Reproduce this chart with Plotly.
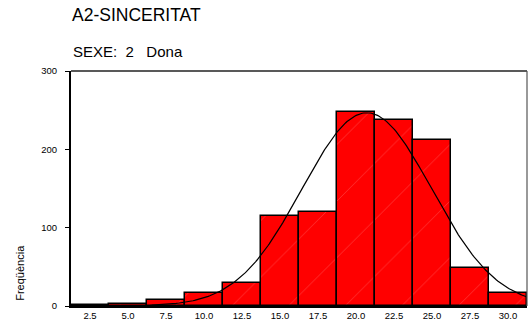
import numpy as np
import plotly.graph_objects as go

# Histogram of A2-SINCERITAT for SEXE = 2 (Dona)
bin_centers = [2.5, 5.0, 7.5, 10.0, 12.5, 15.0, 17.5, 20.0, 22.5, 25.0, 27.5, 30.0]
frequencies = [1, 3, 8, 16, 30, 115, 120, 248, 237, 212, 48, 16]
tick_labels = ["2.5", "5.0", "7.5", "10.0", "12.5", "15.0", "17.5", "20.0",
               "22.5", "25.0", "27.5", "30.0"]
y_ticks = [0, 100, 200, 300]
bin_width = 2.5

# Normal curve fitted to the grouped data (Sheppard-corrected variance)
x = np.array(bin_centers)
n = np.array(frequencies)
total = n.sum()
mean = (x * n).sum() / total
var = (n * (x - mean) ** 2).sum() / total - bin_width ** 2 / 12
sd = np.sqrt(var)
xc = np.linspace(1.25, 31.25, 300)
yc = total * bin_width * np.exp(-0.5 * ((xc - mean) / sd) ** 2) / (sd * np.sqrt(2 * np.pi))

fig = go.Figure()
fig.add_trace(go.Bar(
    x=bin_centers, y=frequencies, width=bin_width,
    marker=dict(color="#ff0000", line=dict(color="black", width=1.5),
                pattern=dict(shape="/", fgcolor="rgba(255,190,190,0.6)",
                             size=40, solidity=0.02)),
    showlegend=False,
))
fig.add_trace(go.Scatter(
    x=xc, y=yc, mode="lines", line=dict(color="black", width=1.2),
    showlegend=False, hoverinfo="skip",
))

fig.update_layout(
    width=529, height=320,
    margin=dict(l=71, r=2, t=71, b=14, autoexpand=False),
    paper_bgcolor="white", plot_bgcolor="white",
    font=dict(family="Liberation Sans, Arial, sans-serif", color="black"),
    bargap=0,
    xaxis=dict(range=[1.25, 31.25], tickvals=bin_centers, ticktext=tick_labels,
               tickfont=dict(size=9.5), ticks="", ticklabelstandoff=0,
               automargin=False, showgrid=False, zeroline=False,
               showline=True, linecolor="black", linewidth=1.5, mirror=False),
    yaxis=dict(range=[0, 300], tickvals=y_ticks, tickfont=dict(size=9.5),
               ticks="outside", ticklen=4, tickcolor="black", ticklabelstandoff=6,
               automargin=False, showgrid=False, zeroline=False,
               showline=True, linecolor="black", linewidth=2),
    shapes=[
        dict(type="line", xref="paper", yref="paper", x0=0, x1=1, y0=1, y1=1,
             line=dict(color="#222222", width=1.5)),
        dict(type="line", xref="paper", yref="paper", x0=1, x1=1, y0=0, y1=1,
             line=dict(color="#555555", width=1.2)),
    ],
    annotations=[
        dict(text="A2-SINCERITAT", xref="paper", yref="paper", x=-0.002, y=1.238,
             xanchor="left", yanchor="middle", showarrow=False,
             font=dict(size=17.5)),
        dict(text="SEXE:  2   Dona", xref="paper", yref="paper", x=0.0, y=1.082,
             xanchor="left", yanchor="middle", showarrow=False,
             font=dict(size=15)),
        dict(text="Freqüència", xref="paper", yref="paper", x=-0.111, y=0.143,
             xanchor="center", yanchor="middle", showarrow=False, textangle=-90,
             font=dict(size=11)),
    ],
)

fig.write_html("out.html")
